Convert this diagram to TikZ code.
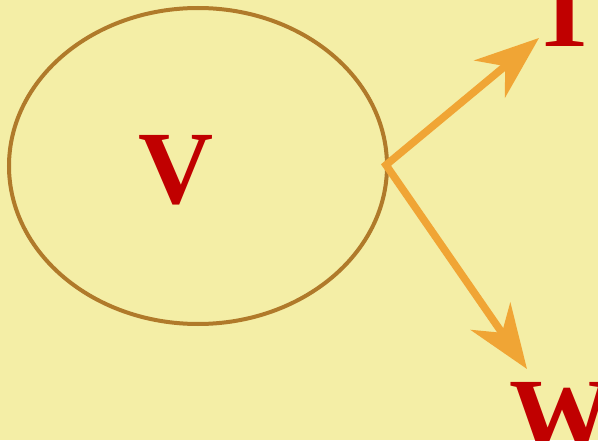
\documentclass[tikz,border=0pt]{standalone}
\usepackage{fontspec}
\setmainfont{Liberation Serif}
\usetikzlibrary{arrows.meta,shapes.geometric}
\definecolor{bg}{HTML}{F4EEA6}
\definecolor{ring}{HTML}{B07A2A}
\definecolor{arr}{HTML}{F0A535}
\definecolor{lab}{HTML}{C00000}
\tikzset{
  letter/.style={text=lab,font=\fontsize{104}{104}\selectfont\bfseries,inner sep=0pt},
  vec/.style={draw=arr,line width=7.5pt,line join=miter,
    arrows={Stealth[length=64pt,width=48pt,inset=20pt]-Stealth[length=64pt,width=48pt,inset=20pt]}}
}
\begin{document}
\begin{tikzpicture}[x=1pt,y=1pt]
\fill[bg] (0,0) rectangle (598,440);
\useasboundingbox (0,0) rectangle (598,440);
\node[draw=ring,line width=4pt,ellipse,minimum width=378pt,minimum height=316pt,inner sep=0pt] (e) at (198,274) {};
\node[letter] (v) at (176,270) {V};
\node[letter,anchor=base] (t) at (565,393) {T};
\node[letter,anchor=base] (w) at (561,-10) {W};
\coordinate (o) at (386,275);
\coordinate (tt) at (539,402);
\coordinate (tw) at (527,71);
\draw[vec] (tt) -- (o) -- (tw);
\end{tikzpicture}
\end{document}
